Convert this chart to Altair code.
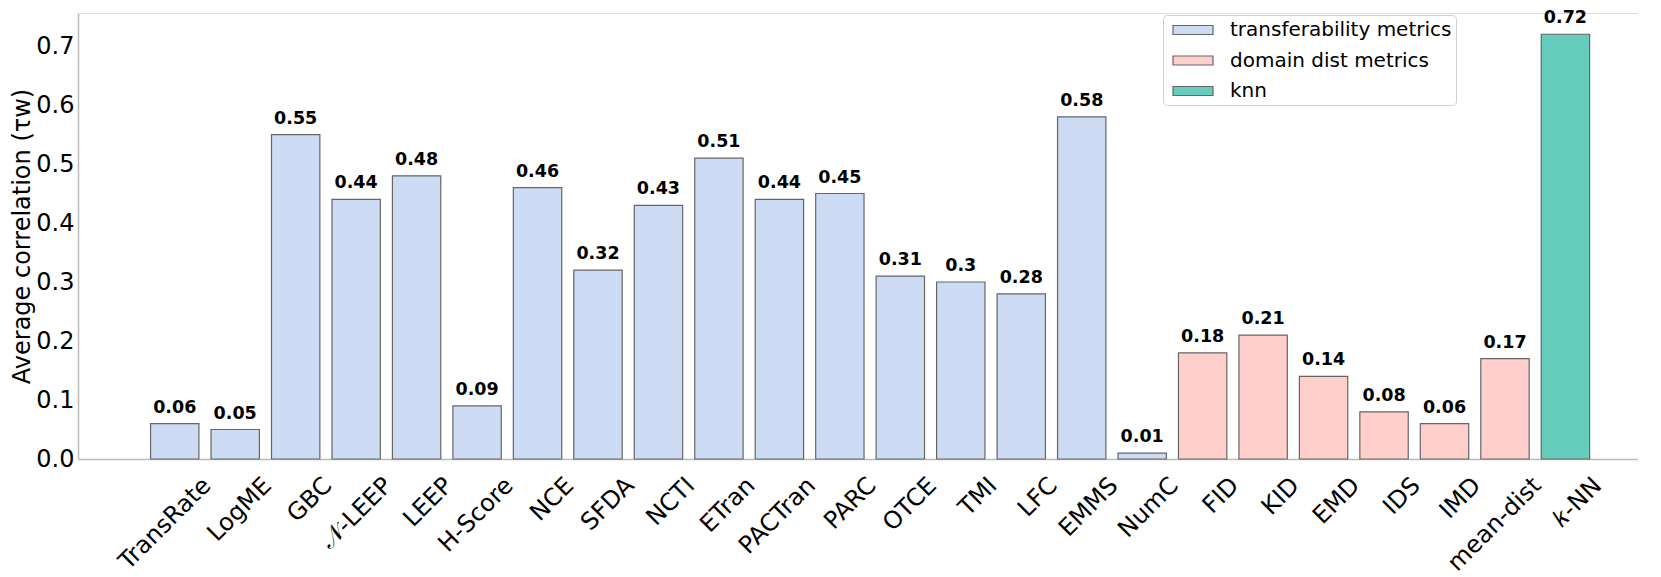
import altair as alt
import pandas as pd

methods = ["TransRate", "LogME", "GBC", "𝒩-LEEP", "LEEP", "H-Score", "NCE", "SFDA",
           "NCTI", "ETran", "PACTran", "PARC", "OTCE", "TMI", "LFC", "EMMS", "NumC",
           "FID", "KID", "EMD", "IDS", "IMD", "mean-dist", "𝑘-NN"]
values = [0.06, 0.05, 0.55, 0.44, 0.48, 0.09, 0.46, 0.32,
          0.43, 0.51, 0.44, 0.45, 0.31, 0.30, 0.28, 0.58, 0.01,
          0.18, 0.21, 0.14, 0.08, 0.06, 0.17, 0.72]
groups = ["transferability metrics"] * 17 + ["domain dist metrics"] * 6 + ["knn"]
group_names = ["transferability metrics", "domain dist metrics", "knn"]
group_colors = ["#cddcf4", "#ffcfcc", "#66ccbb"]
y_ticks = [0.0, 0.1, 0.2, 0.3, 0.4, 0.5, 0.6, 0.7]

df = pd.DataFrame({"method": methods, "value": values, "group": groups})

FONT = "DejaVu Sans"

x = alt.X(
    "method:N", sort=methods, title=None,
    scale=alt.Scale(paddingInner=0.2, paddingOuter=1.0, align=0.6),
    axis=alt.Axis(labelAngle=-45, labelAlign="right", labelBaseline="top",
                  labelFontSize=24, labelPadding=14, labelOffset=24, ticks=False,
                  domainColor="#bbbbbb", domainWidth=1.5, labelColor="#000000",
                  labelFont=FONT, labelLimit=0),
)
y = alt.Y(
    "value:Q", title="Average correlation (τw)",
    scale=alt.Scale(domain=[0, 0.756], nice=False, zero=True),
    axis=alt.Axis(values=y_ticks, format=".1f", ticks=False, grid=False,
                  labelFontSize=24, labelPadding=4, labelColor="#000000",
                  titleFontSize=24, titleFontWeight="normal", titlePadding=1,
                  titleColor="#000000", domainColor="#bbbbbb", domainWidth=1.5,
                  labelFont=FONT, titleFont=FONT),
)

bars = alt.Chart(df).mark_bar(stroke="#666666", strokeWidth=1.2).encode(
    x=x, y=y,
    color=alt.Color(
        "group:N",
        scale=alt.Scale(domain=group_names, range=group_colors),
        legend=alt.Legend(
            title=None, orient="none", legendX=1085, legendY=2,
            labelFontSize=20, labelFont=FONT, labelColor="#000000", labelLimit=0,
            symbolType="M-0.5,-0.45L3.5,-0.45L3.5,0.45L-0.5,0.45Z", symbolSize=400,
            symbolStrokeColor="#666666", symbolStrokeWidth=1.2, symbolOpacity=1,
            labelOffset=41, rowPadding=9.5, padding=4,
            strokeColor="#d0d0d0", cornerRadius=4, fillColor="#ffffff",
        ),
    ),
)

labels = alt.Chart(df).mark_text(
    fontWeight="bold", fontSize=17.5, font=FONT, dy=-11, baseline="alphabetic",
    color="#000000",
).encode(x=alt.X("method:N", sort=methods), y="value:Q",
         text=alt.Text("value:Q", format=".2~f"))

chart = alt.layer(bars, labels).properties(
    width=1560, height=446,
    padding={"left": 2, "top": 1, "right": 0, "bottom": 0},
).configure_view(stroke=None).configure(font=FONT)

chart.save("out.html", embed_options={"renderer": "svg", "actions": False})
